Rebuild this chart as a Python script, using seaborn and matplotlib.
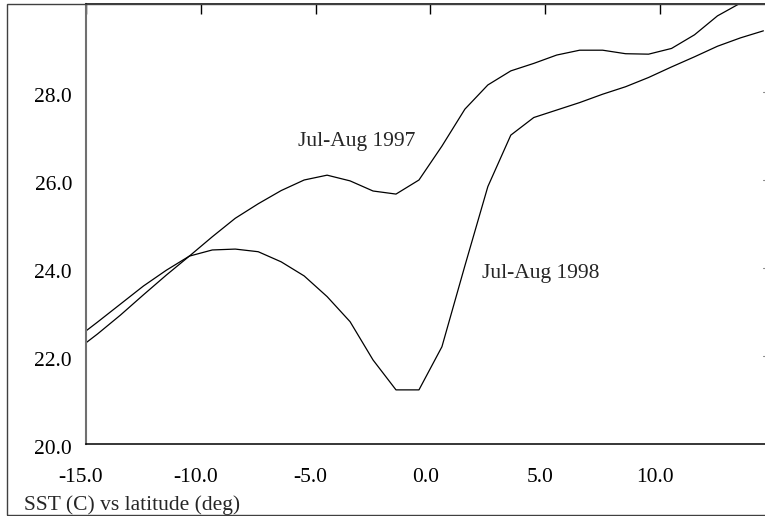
import numpy as np
import pandas as pd
import matplotlib
matplotlib.use("Agg")
import matplotlib.pyplot as plt
import matplotlib.transforms as mtransforms
import seaborn as sns
from matplotlib.patches import Rectangle

# latitude (deg) at half-degree centres, first/last points lie outside the axis range
lat = [-15.5, -14.5, -13.5, -12.5, -11.5, -10.5, -9.5, -8.5, -7.5, -6.5,
       -5.5, -4.5, -3.5, -2.5, -1.5, -0.5, 0.5, 1.5, 2.5, 3.5,
       4.5, 5.5, 6.5, 7.5, 8.5, 9.5, 10.5, 11.5, 12.5, 13.5, 14.5]

sst_1997 = [22.10, 22.50, 22.93, 23.39, 23.84, 24.27, 24.71, 25.13, 25.46, 25.76,
            26.00, 26.11, 25.98, 25.75, 25.68, 26.00, 26.77, 27.61, 28.16, 28.48,
            28.65, 28.84, 28.95, 28.95, 28.87, 28.86, 28.99, 29.30, 29.73, 30.02, 30.35]

sst_1998 = [22.37, 22.77, 23.18, 23.59, 23.95, 24.27, 24.41, 24.43, 24.37, 24.14,
            23.82, 23.35, 22.78, 21.91, 21.23, 21.23, 22.21, 24.05, 25.85, 27.02,
            27.42, 27.59, 27.76, 27.95, 28.12, 28.33, 28.57, 28.80, 29.04, 29.23, 29.39]

labels = ["Jul-Aug 1997", "Jul-Aug 1998"]
xticks = [-15.0, -10.0, -5.0, 0.0, 5.0, 10.0]
yticks = [20.0, 22.0, 24.0, 26.0, 28.0]

sns.set_style("white")
plt.rcParams['font.family'] = ['Liberation Serif', 'DejaVu Serif']
plt.rcParams['axes.unicode_minus'] = False

fig = plt.figure(figsize=(7.65, 5.16), dpi=100)
ax = fig.add_axes([86 / 765, 1 - 444 / 516, 1 - 86 / 765, 440 / 516])

df = pd.DataFrame({'lat': lat, 'y97': sst_1997, 'y98': sst_1998})
sns.lineplot(data=df, x='lat', y='y97', color='black', lw=0.9, ax=ax)
sns.lineplot(data=df, x='lat', y='y98', color='black', lw=0.9, ax=ax)

ax.set_xlim(-15, 14.57)
ax.set_ylim(20, 30)
ax.set_xlabel('')
ax.set_ylabel('')

ax.set_xticks(xticks)
ax.set_xticklabels([f'{v:.1f}' for v in xticks])
ax.set_yticks(yticks)
ax.set_yticklabels([f'{v:.1f}' for v in yticks])
ax.tick_params(axis='x', direction='in', length=7.5, width=1, top=True,
               labelsize=15.5, pad=17.5, colors='black')
ax.tick_params(axis='y', direction='in', length=7.5, width=1, right=False,
               labelsize=15.5, pad=10, colors='black')

# x tick labels sit a little left of their ticks in the original
shift = mtransforms.ScaledTranslation(-5 / 100, 0, fig.dpi_scale_trans)
for lab in ax.get_xticklabels():
    lab.set_transform(lab.get_transform() + shift)
down = mtransforms.ScaledTranslation(0, -2.5 / 100, fig.dpi_scale_trans)
for lab in ax.get_yticklabels():
    lab.set_transform(lab.get_transform() + down)

for sp in ['top', 'bottom']:
    ax.spines[sp].set_color('black')
    ax.spines[sp].set_linewidth(1.1)
ax.spines['left'].set_color('#707070')
ax.spines['left'].set_linewidth(1.5)
ax.spines['right'].set_visible(False)

# tiny marks on the right edge
for v in yticks[1:]:
    ax.plot([14.5, 14.57], [v, v], color='#888888', lw=0.8, clip_on=False)

ax.text(-5.76, 26.77, labels[0], fontsize=15.5, ha='left', va='baseline')
ax.text(2.25, 23.77, labels[1], fontsize=15.5, ha='left', va='baseline')

fig.text(24 / 765, 1 - 510 / 516, 'SST (C) vs latitude (deg)', fontsize=15.5,
         ha='left', va='baseline')

# outer frame
fig.patches.append(Rectangle((7 / 765, 1 - 515 / 516), 1.2, 511 / 516,
                             transform=fig.transFigure, fill=False,
                             edgecolor='#404040', lw=1.0))

fig.savefig('out.png', dpi=100)
